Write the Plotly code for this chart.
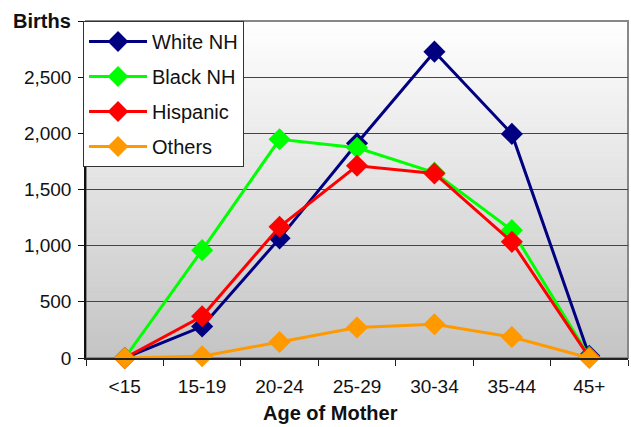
import plotly.graph_objects as go

categories = ["<15", "15-19", "20-24", "25-29", "30-34", "35-44", "45+"]
white_nh = [0, 280, 1065, 1912, 2727, 1995, 20]
black_nh = [0, 960, 1947, 1872, 1650, 1138, 10]
hispanic = [0, 372, 1168, 1711, 1643, 1034, 5]
others = [0, 15, 143, 271, 300, 187, 0]
y_ticks = [0, 500, 1000, 1500, 2000, 2500, 3000]
y_tick_labels = ["0", "500", "1,000", "1,500", "2,000", "2,500", ""]

series = [
    ("White NH", white_nh, "#000080"),
    ("Black NH", black_nh, "#00ff00"),
    ("Hispanic", hispanic, "#ff0000"),
    ("Others", others, "#ff9900"),
]

FONT = "Arial, 'Liberation Sans', sans-serif"

fig = go.Figure()
for i, (name, vals, col) in enumerate(series):
    fig.add_trace(go.Scatter(
        x=categories, y=vals, name=name, mode="lines+markers",
        line=dict(color=col, width=3),
        marker=dict(symbol="diamond", size=17, color=col),
        legendgroup=f"g{i}", cliponaxis=False,
    ))

# gradient background (white top -> gray bottom)
shapes = []
n = 80
for k in range(n):
    t = (k + 0.5) / n  # 0 at bottom
    v = int(round(0xc4 + (0xff - 0xc4) * t))
    shapes.append(dict(type="rect", xref="paper", yref="paper",
                       x0=0, x1=1, y0=k / n, y1=(k + 1) / n + 0.002,
                       fillcolor=f"rgb({v},{v},{v})", line=dict(width=0),
                       layer="below"))
# plot border (top/right gray)
shapes.append(dict(type="rect", xref="paper", yref="paper", x0=0, x1=1, y0=0, y1=1,
                   line=dict(color="#888888", width=2), fillcolor="rgba(0,0,0,0)",
                   layer="below"))

fig.update_layout(
    width=631, height=427,
    margin=dict(l=86, r=3, t=21, b=69, autoexpand=False),
    paper_bgcolor="white",
    plot_bgcolor="rgba(0,0,0,0)",
    font=dict(family=FONT, size=18, color="#111111"),
    shapes=shapes,
    showlegend=True,
    legend=dict(
        x=-0.0055, y=1.0, xanchor="left", yanchor="top",
        bgcolor="white", bordercolor="#333333", borderwidth=1,
        font=dict(family=FONT, size=20, color="#111111"),
        tracegroupgap=6, itemwidth=58,
    ),
    annotations=[
        dict(text="<b>Births</b>", xref="paper", yref="paper", x=-0.024, y=1.0,
             xanchor="right", yanchor="middle", showarrow=False,
             font=dict(family=FONT, size=20, color="#111111")),
        dict(text="<b>Age of Mother</b>", xref="paper", yref="paper", x=0.452, y=-0.163,
             xanchor="center", yanchor="middle", showarrow=False,
             font=dict(family=FONT, size=20, color="#111111")),
    ],
)
fig.update_xaxes(
    type="category", range=[-0.5, 6.5],
    showline=True, linecolor="#222222", linewidth=2,
    ticks="outside", ticklen=6, tickcolor="#222222", tickson="boundaries",
    showgrid=False, tickfont=dict(size=19, color="#111111"),
    ticklabelstandoff=10,
)
fig.update_yaxes(
    range=[0, 3000], tickvals=y_ticks, ticktext=y_tick_labels,
    showline=True, linecolor="#111111", linewidth=1.5,
    ticks="outside", ticklen=6, tickcolor="#111111",
    showgrid=True, gridcolor="#444444", gridwidth=1, zeroline=False,
    tickfont=dict(size=19, color="#111111"), ticklabelstandoff=3,
)

fig.write_html("out.html", config={"displayModeBar": False},
               post_script="document.body.style.margin='0';")
